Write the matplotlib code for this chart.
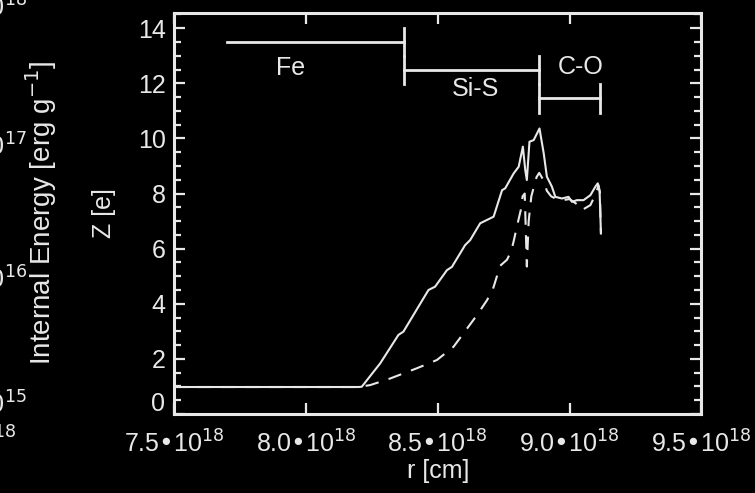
import matplotlib
matplotlib.use("Agg")
import matplotlib.pyplot as plt
from matplotlib.ticker import MultipleLocator, FuncFormatter

plt.rcParams['font.family'] = ['Liberation Sans', 'DejaVu Sans']

# radius in units of 1e18 cm, mean ionisation Z
r_solid = [7.50, 8.00, 8.200, 8.212, 8.282, 8.351, 8.370, 8.465, 8.490, 8.535,
           8.554, 8.604, 8.623, 8.661, 8.712, 8.744, 8.756, 8.788, 8.807,
           8.823, 8.832, 8.838, 8.848, 8.864, 8.886, 8.902, 8.914, 8.933,
           8.946, 8.971, 8.996, 9.009, 9.028, 9.053, 9.079, 9.098, 9.107,
           9.114, 9.119]
z_solid = [0.98, 0.98, 0.98, 0.99, 1.84, 2.87, 2.99, 4.50, 4.62, 5.22,
           5.34, 6.13, 6.31, 6.92, 7.16, 8.12, 8.19, 8.73, 8.97,
           9.70, 8.85, 8.49, 9.88, 9.94, 10.36, 9.46, 8.61, 8.25,
           7.88, 7.82, 7.88, 7.70, 7.76, 7.76, 7.94, 8.25, 8.37,
           8.07, 6.55]

r_dash = [7.50, 8.00, 8.200, 8.244, 8.320, 8.421, 8.497, 8.560, 8.598, 8.649,
          8.687, 8.710, 8.737, 8.763, 8.780, 8.790, 8.800, 8.815, 8.822,
          8.830, 8.838, 8.845, 8.855, 8.875, 8.885, 8.900, 8.914, 8.930,
          8.950, 8.970, 9.000, 9.030, 9.047, 9.079, 9.100, 9.110, 9.115, 9.119]
z_dash = [0.98, 0.98, 0.98, 1.05, 1.29, 1.66, 1.96, 2.44, 2.93, 3.59,
          4.13, 4.55, 5.38, 5.60, 5.95, 6.35, 6.79, 7.40, 7.90,
          8.00, 5.35, 7.00, 7.90, 8.60, 8.75, 8.50, 8.10, 7.90,
          7.80, 7.75, 7.80, 7.60, 7.40, 7.58, 8.00, 8.30, 8.05, 6.55]

# composition zones
zones = ['Fe', 'Si-S', 'C-O']
zone_start = [7.70, 8.373, 8.883]
zone_end = [8.373, 8.883, 9.117]
zone_level = [13.50, 12.48, 11.45]
label_r = [7.942, 8.642, 9.041]
label_z = [12.54, 11.81, 12.60]

xticks = [7.5, 8.0, 8.5, 9.0, 9.5]
xtick_labels = ['7.5•10$^{18}$', '8.0•10$^{18}$', '8.5•10$^{18}$',
                '9.0•10$^{18}$', '9.5•10$^{18}$']

fg = '#e8e8e8'
fs = 18
fig = plt.figure(figsize=(7.55, 4.93), dpi=100, facecolor='black')
ax = fig.add_axes([0.2305, 0.1602, 0.6985, 0.8134], facecolor='black')

ax.plot([r * 1e18 for r in r_solid], z_solid, color=fg, lw=1.5)
ax.plot([r * 1e18 for r in r_dash], z_dash, color=fg, lw=1.5,
        linestyle=(0, (6.5, 5)))

half = 0.52
for i, name in enumerate(zones):
    a, b, lev = zone_start[i] * 1e18, zone_end[i] * 1e18, zone_level[i]
    ax.plot([a, b], [lev, lev], color=fg, lw=2)
    ax.plot([b, b], [lev - half, lev + half], color=fg, lw=2)
    if i > 0:
        ax.plot([a, a], [lev - half, lev + half], color=fg, lw=2)
    ax.text(label_r[i] * 1e18, label_z[i], name, color=fg, fontsize=fs,
            ha='center', va='center')

ax.set_xlim(7.5e18, 9.5e18)
ax.set_ylim(0, 14.55)
ax.set_xticks([t * 1e18 for t in xticks])
ax.set_xticklabels(xtick_labels)
ax.yaxis.set_major_locator(MultipleLocator(2))
ax.yaxis.set_minor_locator(MultipleLocator(0.5))
# the "0" label sits a little above its tick in the original, drawn below
ax.yaxis.set_major_formatter(FuncFormatter(lambda v, p: '' if v == 0 else '%d' % v))
ax.text(-0.017, 0.35, '0', transform=ax.get_yaxis_transform(), color=fg,
        fontsize=fs, ha='right', va='center')

for s in ax.spines.values():
    s.set_color(fg)
    s.set_linewidth(2.2)
ax.tick_params(axis='both', which='both', direction='in', colors=fg,
               top=True, right=True, labelsize=fs)
ax.tick_params(axis='both', which='major', length=8, width=1.6)
ax.tick_params(axis='y', which='minor', length=5, width=1.6)
ax.tick_params(axis='x', which='major', pad=12)
ax.tick_params(axis='y', which='major', pad=6)

ax.set_xlabel('r [cm]', color=fg, fontsize=fs, labelpad=1)
ax.set_ylabel('Z [e]', color=fg, fontsize=fs, labelpad=16)

# fragments of the neighbouring panel on the left
fig.text(41 / 755, 1 - 213 / 493, 'Internal Energy [erg g$^{-1}$]',
         color=fg, fontsize=20, rotation=90, ha='center', va='center')
for ypix, e in [(8, 18), (147, 17), (280, 16), (405, 15)]:
    fig.text(27 / 755, 1 - ypix / 493, '10$^{%d}$' % e, color=fg,
             fontsize=fs, ha='right', va='center')
fig.text(17 / 755, 1 - 440 / 493, '9.5•10$^{18}$', color=fg, fontsize=fs,
         ha='right', va='center')

fig.savefig('out.png', dpi=100, facecolor='black')
